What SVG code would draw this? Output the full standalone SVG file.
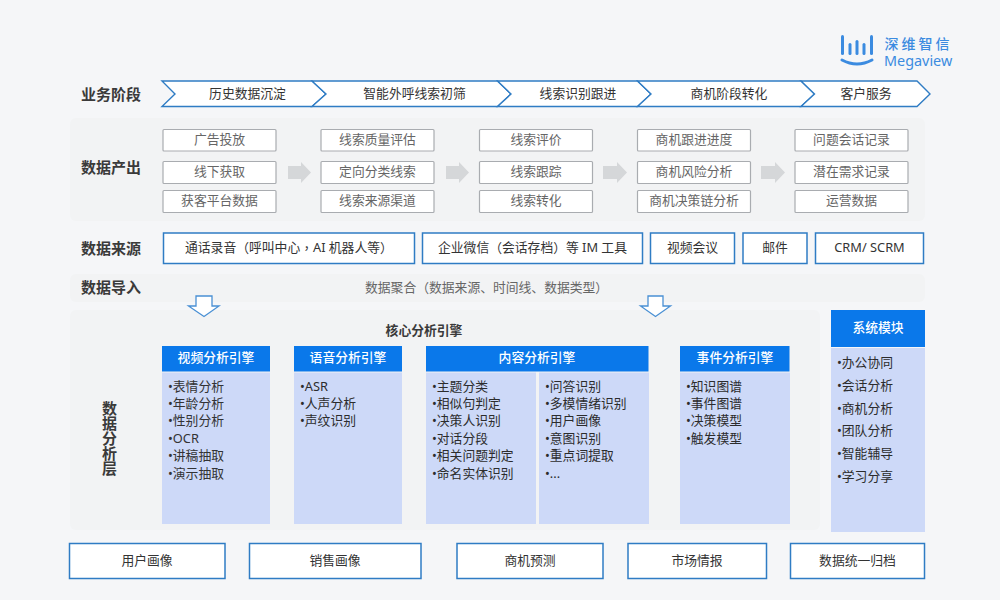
<svg xmlns="http://www.w3.org/2000/svg" width="1000" height="600" viewBox="0 0 1000 600">
<style>
text{font-family:"Noto Sans","Noto Sans CJK SC",sans-serif;font-size:12.8px;fill:#333;dominant-baseline:central}
.c{text-anchor:middle}
.h{font-size:15px;font-weight:700;fill:#3a3a3a}
.g{fill:#666}
.tc{font-family:"Noto Sans CJK TC",sans-serif}
.panel{fill:#f2f3f4}
.stage{fill:#fff;stroke:#2f7cc4;stroke-width:1.4}
.out{fill:#fff;stroke:#a9acb0;stroke-width:1.2}
.src{fill:#fff;stroke:#2f7cc4;stroke-width:1.5}
.ga{fill:#d5d7d9}
.hollow{fill:#fff;stroke:#4a90d4;stroke-width:1.3}
.head{fill:#0a78ea}
.body{fill:#cdd9f8}
.w{fill:#fff;font-weight:500}
.li{fill:#2c2c2c}
.logo{fill:#3b8be0}
</style>
<rect width="1000" height="600" fill="#f5f6f8"/>
<g id="logo">
<g class="logo"><rect x="841" y="35" width="3" height="20" rx="1.500"/><rect x="848.500" y="43" width="3" height="12" rx="1.500"/><rect x="855.500" y="40" width="3" height="15" rx="1.500"/><rect x="862.500" y="43" width="3" height="12" rx="1.500"/><rect x="870" y="35" width="3" height="20" rx="1.500"/></g>
<path d="M842 60Q857 68 872 60" fill="none" stroke="#3b8be0" stroke-width="3" stroke-linecap="round"/>
<text class="logo" x="884.500" y="43" style="font-size:14px;letter-spacing:3px;font-weight:500">深维智信</text>
<text class="logo" x="884" y="60" style="font-size:14.400px">Megaview</text>
</g>
<g id="panels">
<rect class="panel" x="70" y="118" width="855" height="103" rx="6"/>
<rect class="panel" x="70" y="274" width="855" height="28" rx="6"/>
<rect class="panel" x="70" y="310" width="750" height="220" rx="6"/>
</g>
<g id="row-titles">
<text class="h" x="81" y="94">业务阶段</text>
<text class="h" x="81" y="167">数据产出</text>
<text class="h" x="81" y="248">数据来源</text>
<text class="h" x="81" y="287">数据导入</text>
<text class="h c" x="109" y="438" style="writing-mode:vertical-rl">数据分析层</text>
</g>
<g id="connectors">
<g class="ga">
<path d="M288 166H301V162L311 172.500L301 183V179H288Z"/>
<path d="M446 166H459V162L469 172.500L459 183V179H446Z"/>
<path d="M603 166H617V162L627 172.500L617 183V179H603Z"/>
<path d="M761 166H775V162L785 172.500L775 183V179H761Z"/>
</g>
<path class="hollow" d="M196 296H212V306H219L204 316.500L188.500 306H196Z"/>
<path class="hollow" d="M648 296H663V306H670.500L655.500 316.500L640.500 306H648Z"/>
</g>
<g id="stage-1"><path class="stage" d="M162 81H312L326 94L312 106.500H162L175 94Z"/><text class="c" x="247.500" y="93">历史数据沉淀</text></g>
<g id="stage-2"><path class="stage" d="M312 81H497.500L511 94L497.500 106.500H312L326 94Z"/><text class="c" x="414.500" y="93">智能外呼线索初筛</text></g>
<g id="stage-3"><path class="stage" d="M497.500 81H637.500L651 94L637.500 106.500H497.500L511 94Z"/><text class="c" x="578" y="93">线索识别跟进</text></g>
<g id="stage-4"><path class="stage" d="M637.500 81H801L814.500 94L801 106.500H637.500L651 94Z"/><text class="c" x="729" y="93">商机阶段转化</text></g>
<g id="stage-5"><path class="stage" d="M801 81H917L930 94L917 106.500H801L814.500 94Z"/><text class="c" x="866" y="93">客户服务</text></g>
<g id="out-1">
<rect class="out" x="163" y="129.500" width="113" height="21.500" rx="1"/><text class="g c" x="219.500" y="138.500">广告投放</text>
<rect class="out" x="163" y="161.500" width="113" height="22" rx="1"/><text class="g c" x="219.500" y="171">线下获取</text>
<rect class="out" x="163" y="190.500" width="113" height="22" rx="1"/><text class="g c" x="219.500" y="199.500">获客平台数据</text>
</g>
<g id="out-2">
<rect class="out" x="321" y="129.500" width="113" height="21.500" rx="1"/><text class="g c" x="377.500" y="138.500">线索质量评估</text>
<rect class="out" x="321" y="161.500" width="113" height="22" rx="1"/><text class="g c" x="377.500" y="171">定向分类线索</text>
<rect class="out" x="321" y="190.500" width="113" height="22" rx="1"/><text class="g c" x="377.500" y="199.500">线索来源渠道</text>
</g>
<g id="out-3">
<rect class="out" x="479.500" y="129.500" width="113" height="21.500" rx="1"/><text class="g c" x="536" y="138.500">线索评价</text>
<rect class="out" x="479.500" y="161.500" width="113" height="22" rx="1"/><text class="g c" x="536" y="171">线索跟踪</text>
<rect class="out" x="479.500" y="190.500" width="113" height="22" rx="1"/><text class="g c" x="536" y="199.500">线索转化</text>
</g>
<g id="out-4">
<rect class="out" x="637.500" y="129.500" width="113" height="21.500" rx="1"/><text class="g c" x="694" y="138.500">商机跟进进度</text>
<rect class="out" x="637.500" y="161.500" width="113" height="22" rx="1"/><text class="g c" x="694" y="171">商机风险分析</text>
<rect class="out" x="637.500" y="190.500" width="113" height="22" rx="1"/><text class="g c" x="694" y="199.500">商机决策链分析</text>
</g>
<g id="out-5">
<rect class="out" x="795" y="129.500" width="113" height="21.500" rx="1"/><text class="g c" x="851.500" y="138.500">问题会话记录</text>
<rect class="out" x="795" y="161.500" width="113" height="22" rx="1"/><text class="g c" x="851.500" y="171">潜在需求记录</text>
<rect class="out" x="795" y="190.500" width="113" height="22" rx="1"/><text class="g c" x="851.500" y="199.500">运营数据</text>
</g>
<g id="src-1"><rect class="src" x="163.500" y="233" width="251" height="30.500"/><text x="185" y="246.500">通话录音<tspan class="tc">（</tspan>呼叫中心<tspan class="tc">，</tspan>AI 机器人等<tspan class="tc">）</tspan></text></g>
<g id="src-2"><rect class="src" x="422.500" y="233" width="220" height="30.500"/><text x="438" y="246.500">企业微信<tspan class="tc">（</tspan>会话存档<tspan class="tc">）</tspan>等 IM 工具</text></g>
<g id="src-3"><rect class="src" x="650.500" y="233" width="84" height="30.500"/><text class="c" x="692.500" y="246.500">视频会议</text></g>
<g id="src-4"><rect class="src" x="743" y="233" width="64" height="30.500"/><text class="c" x="775" y="246.500">邮件</text></g>
<g id="src-5"><rect class="src" x="815.500" y="233" width="108" height="30.500"/><text class="c" x="869.500" y="246.500">CRM/ SCRM</text></g>
<g id="import"><text class="g" x="365" y="287">数据聚合<tspan class="tc">（</tspan>数据来源、时间线、数据类型<tspan class="tc">）</tspan></text></g>
<text x="424" y="330" class="c" style="font-weight:700;fill:#3a3a3a">核心分析引擎</text>
<g id="engine-video">
<rect class="head" x="162" y="346" width="108" height="25.500"/><rect class="body" x="162" y="372.500" width="108" height="151.500"/>
<text class="w c" x="216" y="357">视频分析引擎</text>
<g class="li"><text x="168" y="386">•表情分析</text><text x="168" y="403">•年龄分析</text><text x="168" y="420">•性别分析</text><text x="168" y="437.500">•OCR</text><text x="168" y="455">•讲稿抽取</text><text x="168" y="473">•演示抽取</text></g>
</g>
<g id="engine-voice">
<rect class="head" x="294" y="346" width="108" height="25.500"/><rect class="body" x="294" y="372.500" width="108" height="151.500"/>
<text class="w c" x="348" y="357">语音分析引擎</text>
<text class="li" x="300" y="386">•ASR</text><text class="li" x="300" y="403">•人声分析</text><text class="li" x="300" y="420">•声纹识别</text>
</g>
<g id="engine-content">
<rect class="head" x="426" y="346" width="222.500" height="25.500"/><rect class="body" x="426" y="372.500" width="110" height="151.500"/><rect class="body" x="539" y="372.500" width="110" height="151.500"/>
<text class="w c" x="537" y="357">内容分析引擎</text>
<text class="li" x="432" y="386">•主题分类</text><text class="li" x="432" y="403">•相似句判定</text><text class="li" x="432" y="420">•决策人识别</text><text class="li" x="432" y="437.500">•对话分段</text><text class="li" x="432" y="455">•相关问题判定</text><text class="li" x="432" y="473">•命名实体识别</text>
<text class="li" x="545" y="386">•问答识别</text><text class="li" x="545" y="403">•多模情绪识别</text><text class="li" x="545" y="420">•用户画像</text><text class="li" x="545" y="437.500">•意图识别</text><text class="li" x="545" y="455">•重点词提取</text><text class="li" x="545" y="473">•...</text>
</g>
<g id="engine-event">
<rect class="head" x="680" y="346" width="109.500" height="25.500"/><rect class="body" x="680" y="372.500" width="110" height="151.500"/>
<text class="w c" x="735" y="357">事件分析引擎</text>
<text class="li" x="686" y="386">•知识图谱</text><text class="li" x="686" y="403">•事件图谱</text><text class="li" x="686" y="420">•决策模型</text><text class="li" x="686" y="437.500">•触发模型</text>
</g>
<g id="system">
<rect class="head" x="831" y="310" width="94" height="37"/><rect class="body" x="831" y="348" width="94" height="184"/>
<text class="w c" x="878" y="327">系统模块</text>
<text class="li" x="837" y="362">•办公协同</text><text class="li" x="837" y="385">•会话分析</text><text class="li" x="837" y="407.500">•商机分析</text><text class="li" x="837" y="430">•团队分析</text><text class="li" x="837" y="453">•智能辅导</text><text class="li" x="837" y="476">•学习分享</text>
</g>
<g id="out-user"><rect class="src" x="69.500" y="543.500" width="155.500" height="35"/><text class="c" x="147" y="559.500">用户画像</text></g>
<g id="out-sales"><rect class="src" x="249.500" y="543.500" width="171.500" height="35"/><text class="c" x="335" y="559.500">销售画像</text></g>
<g id="out-biz"><rect class="src" x="457" y="543.500" width="146" height="35"/><text class="c" x="530" y="559.500">商机预测</text></g>
<g id="out-market"><rect class="src" x="628" y="543.500" width="138.500" height="35"/><text class="c" x="697" y="559.500">市场情报</text></g>
<g id="out-archive"><rect class="src" x="790.500" y="543.500" width="134" height="35"/><text class="c" x="857.500" y="559.500">数据统一归档</text></g>
</svg>
